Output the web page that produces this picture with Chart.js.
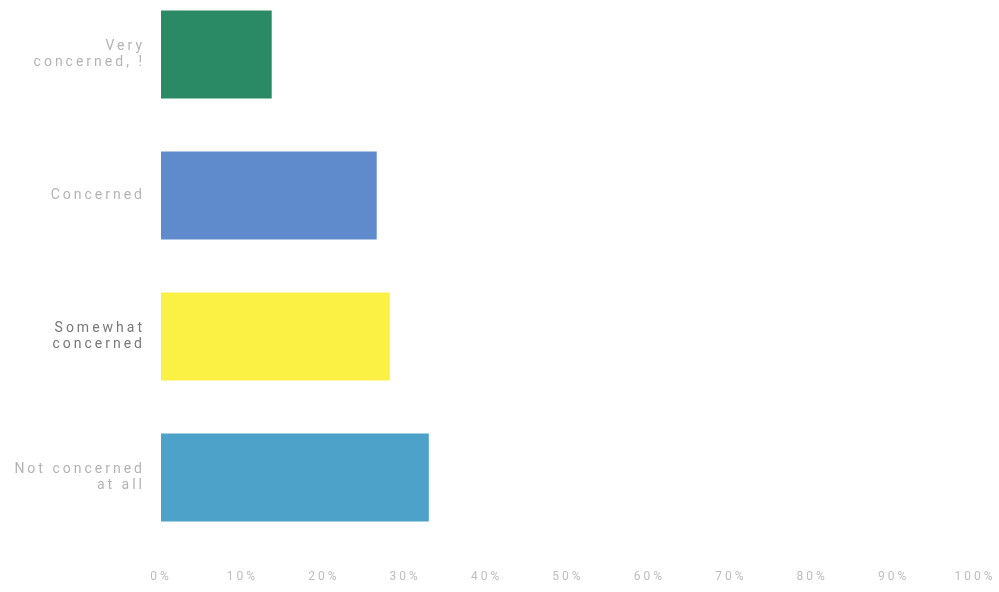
<!DOCTYPE html>
<html>
<head>
<meta charset="utf-8">
<script src="https://cdn.jsdelivr.net/npm/chart.js@4"></script>
<style>
  html, body { margin: 0; padding: 0; background: #fff; overflow: hidden; }
  #wrap { position: absolute; left: 0; top: -16px; width: 999px; height: 608px; }
</style>
</head>
<body>
<div id="wrap"><canvas id="canvas"></canvas></div>
<script>
const categories = [
    ['Very', 'concerned, !'],
    ['Concerned'],
    ['Somewhat', 'concerned'],
    ['Not concerned', 'at all']
];
const values = [13.6, 26.5, 28.1, 32.9];
const barColors = ['#2b8a66', '#5f8bcc', '#fbf044', '#4ca2c9'];
const tickValues = [0, 10, 20, 30, 40, 50, 60, 70, 80, 90, 100];

// scanned look: wide letter spacing on all labels
const spacing = {
    id: 'spacing',
    beforeUpdate: chart => { chart.ctx.letterSpacing = '3px'; },
    beforeDraw: chart => { chart.ctx.letterSpacing = '3px'; }
};

var ctx = document.getElementById('canvas').getContext('2d');
var myChart = new Chart(ctx, {
    type: 'bar',
    data: {
        labels: categories,
        datasets: [{
            data: values,
            backgroundColor: barColors,
            borderWidth: 0,
            barPercentage: 0.625,
            categoryPercentage: 1
        }]
    },
    options: {
        indexAxis: 'y',
        responsive: true,
        maintainAspectRatio: false,
        animation: false,
        layout: { padding: { top: 0, right: 24, bottom: 0, left: 0 } },
        plugins: { legend: { display: false }, tooltip: { enabled: false } },
        scales: {
            x: {
                min: 0,
                max: 100,
                grid: { display: false, drawTicks: false },
                border: { display: false },
                afterBuildTicks: scale => {
                    scale.ticks = tickValues.map(v => ({ value: v }));
                },
                afterFit: scale => {
                    scale.height = 44;
                    scale.paddingLeft = 0;
                    scale.paddingRight = 0;
                },
                ticks: {
                    padding: 22,
                    color: '#bdbdbd',
                    font: { family: 'Roboto', size: 12 },
                    callback: v => v + '%'
                }
            },
            y: {
                grid: { display: false, drawTicks: false },
                border: { display: false },
                afterFit: scale => {
                    scale.width = 161;
                    scale.paddingTop = 0;
                    scale.paddingBottom = 0;
                },
                ticks: {
                    padding: 16,
                    color: c => c.index === 2 ? '#777' : '#b3b3b3',
                    font: { family: 'Roboto', size: 14 }
                }
            }
        }
    },
    plugins: [spacing]
});
</script>
</body>
</html>
